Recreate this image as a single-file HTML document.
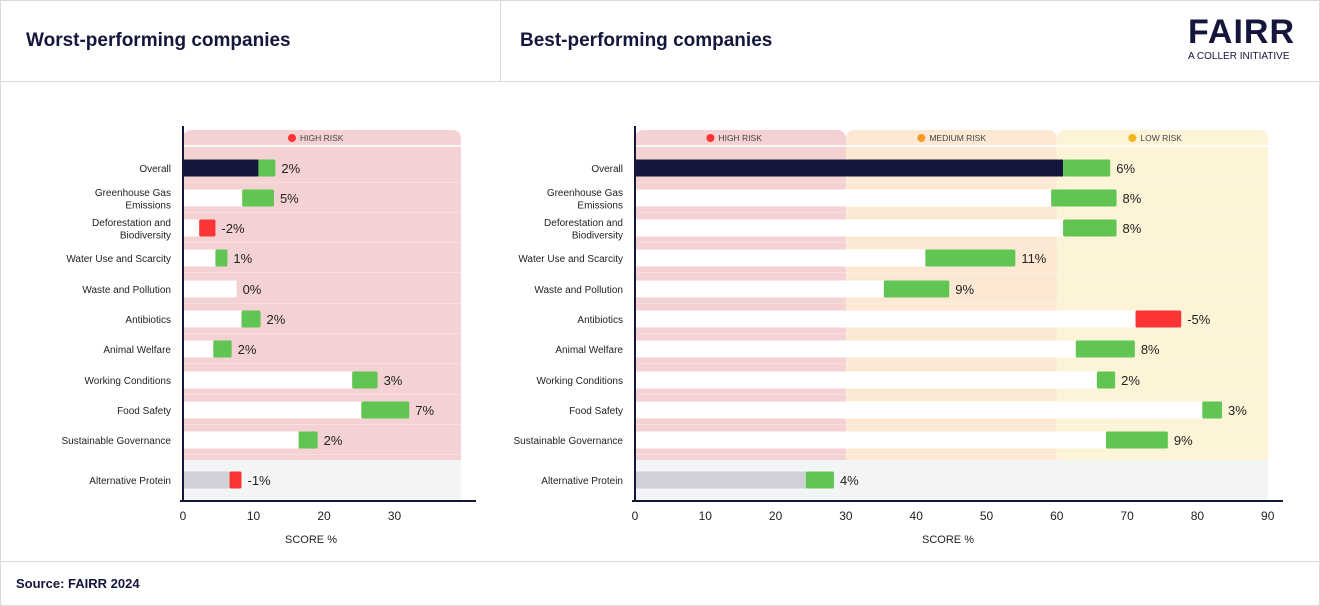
<!DOCTYPE html>
<html><head><meta charset="utf-8">
<style>
body{margin:0;width:1320px;height:606px;background:#fff;font-family:"Liberation Sans",sans-serif;overflow:hidden;position:relative}
.frame{position:absolute;left:0;top:0;width:1318px;height:604px;border:1px solid #d9d9d9}
.t{position:absolute;font-weight:bold;font-size:19px;color:#14163b}
svg{position:absolute;left:0;top:0}
</style></head><body>
<div class="frame"></div>
<div style="position:absolute;left:0;top:81px;width:1320px;height:1px;background:#d9d9d9"></div>
<div style="position:absolute;left:500px;top:0;width:1px;height:81px;background:#d9d9d9"></div>
<div class="t" style="left:26px;top:30px">Worst-performing companies</div>
<div class="t" style="left:520px;top:30px">Best-performing companies</div>
<div style="position:absolute;left:1188px;top:14px;font-weight:900;font-size:34px;letter-spacing:1px;color:#14163b;line-height:36px">FAIRR</div>
<div style="position:absolute;left:1188px;top:51px;font-size:10px;color:#14163b">A COLLER INITIATIVE</div>
<div style="position:absolute;left:0;top:561px;width:1320px;height:1px;background:#d9d9d9"></div>
<div style="position:absolute;left:16px;top:576px;font-size:13px;font-weight:bold;color:#14163b">Source: FAIRR 2024</div>
<svg id="c" width="1320" height="606" xmlns="http://www.w3.org/2000/svg"></svg>
<script>
const categories=["Overall","Greenhouse Gas|Emissions","Deforestation and|Biodiversity","Water Use and Scarcity","Waste and Pollution","Antibiotics","Animal Welfare","Working Conditions","Food Safety","Sustainable Governance","Alternative Protein"];
const worstStart=[10.7,8.4,2.3,4.6,7.6,8.3,4.3,24.0,25.3,16.4,6.6];
const worstEnd=[13.1,12.9,4.6,6.3,7.6,11.0,6.9,27.6,32.1,19.1,8.3];
const worstLabels=["2%","5%","-2%","1%","0%","2%","2%","3%","7%","2%","-1%"];
const bestStart=[60.9,59.2,60.9,41.3,35.4,71.2,62.7,65.7,80.7,67.0,24.3];
const bestEnd=[67.6,68.5,68.5,54.1,44.7,77.7,71.1,68.3,83.5,75.8,28.3];
const bestLabels=["6%","8%","8%","11%","9%","-5%","8%","2%","3%","9%","4%"];
const worstTicks=[0,10,20,30];
const bestTicks=[0,10,20,30,40,50,60,70,80,90];
const bestZones=[[0,30,"HIGH RISK","#f4d2d3","#f33"],[30,60,"MEDIUM RISK","#fde8d3","#f59a2a"],[60,90,"LOW RISK","#fdf3d7","#f5b41c"]];
const rowY=[168,198,228,258,289,319,349,380,410,440,480];
const NS="http://www.w3.org/2000/svg";
const svg=document.getElementById('c');
function el(tag,a,txt){const e=document.createElementNS(NS,tag);for(const k in a)e.setAttribute(k,a[k]);if(txt!==undefined)e.textContent=txt;svg.appendChild(e);return e;}
function chart(cfg){
  const x=v=>cfg.x0+v*cfg.k;
  const right=cfg.right;
  cfg.zones.forEach((z,i)=>{
    const r=el('rect',{x:x(z[0]),y:130,width:(i==cfg.zones.length-1?right:x(z[1]))-x(z[0]),height:330,fill:z[3],rx:8});
    
    
    el('rect',{x:x(z[0]),y:140,width:(i==cfg.zones.length-1?right:x(z[1]))-x(z[0]),height:320,fill:z[3]});
    const mid=(x(z[0])+(i==cfg.zones.length-1?right:x(z[1])))/2;
    const d=el('circle',{cx:mid-30,cy:138,r:4,fill:z[4]});
    
    
    const t=el('text',{x:mid-22,y:141,'font-size':8.5,fill:'#444'},z[2]);
    
    
  });
  el('rect',{x:cfg.x0,y:145,width:right-cfg.x0,height:2,fill:'#fff',opacity:0.8});
  for(let i=0;i<10;i++){el('rect',{x:cfg.x0,y:rowY[i]+14,width:right-cfg.x0,height:1,fill:'#fff',opacity:0.3});}
  const g=el('rect',{x:cfg.x0,y:460,width:right-cfg.x0,height:40,fill:'#f3f4f6'});
  
  
  categories.forEach((c,i)=>{
    const y=rowY[i];
    const lines=c.split('|');
    lines.forEach((l,j)=>{
      const t=el('text',{x:cfg.x0-12,y:y+4+(lines.length>1?(j-0.5)*12.5:0),'text-anchor':'end','font-size':10,fill:'#222'},l);
      
      
    });
    const s=cfg.start[i],e=cfg.end[i];
    const baseCol=i==0?'#14163b':(i==10?'#cfd0d8':'#fff');
    const b=el('rect',{x:x(0),y:y-8.5,width:x(Math.min(s,e))-x(0),height:17,fill:baseCol});
    
    
    const neg=cfg.labels[i].startsWith('-');
    if(Math.abs(e-s)>0.01){
      const d=el('rect',{x:x(Math.min(s,e)),y:y-8.5,width:Math.abs(x(e)-x(s)),height:17,fill:neg?'#fb3535':'#60c552',rx:1.5});
      
      
    }
    const l=el('text',{x:x(Math.max(s,e))+6,y:y+5,'font-size':13,fill:'#222'},cfg.labels[i]);
    
    
  });
  el('line',{x1:cfg.x0,y1:126,x2:cfg.x0,y2:501,stroke:'#14163b','stroke-width':2});
  const ax=el('line',{x1:cfg.x0-3,y1:501,x2:right+15,y2:501,stroke:'#14163b','stroke-width':2});
  
  
  cfg.ticks.forEach(v=>{
    const t=el('text',{x:x(v),y:520,'text-anchor':'middle','font-size':12,fill:'#222'},v);
    
    
  });
  const at=el('text',{x:cfg.titleX,y:543,'text-anchor':'middle','font-size':11,fill:'#222'},'SCORE %');
  
  
}
chart({x0:183,k:7.05,right:461,zones:[[0,39.4,"HIGH RISK","#f4d2d3","#f33"]],start:worstStart,end:worstEnd,labels:worstLabels,ticks:worstTicks,titleX:311});
chart({x0:635,k:7.03,right:1268,zones:bestZones,start:bestStart,end:bestEnd,labels:bestLabels,ticks:bestTicks,titleX:948});
</script>
</body></html>
